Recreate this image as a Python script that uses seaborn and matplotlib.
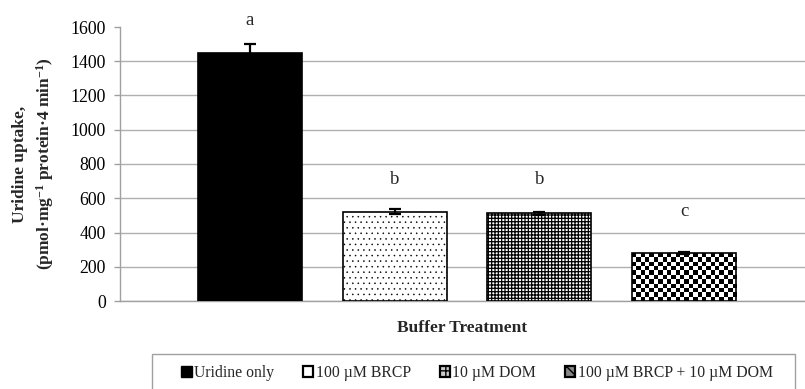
import numpy as np
import pandas as pd
import matplotlib
matplotlib.use("Agg")
import matplotlib.pyplot as plt
from matplotlib.patches import Patch, Rectangle
import seaborn as sns

# ---- data ----
treatments = ["Uridine only", "100 \u00b5M BRCP", "10 \u00b5M DOM", "100 \u00b5M BRCP + 10 \u00b5M DOM"]
uptake = [1450, 522, 512, 280]
errors = [48, 14, 10, 5]
letters = ["a", "b", "b", "c"]
letter_y = [1640, 710, 710, 520]
y_ticks = [0, 200, 400, 600, 800, 1000, 1200, 1400, 1600]

sns.set_theme(style="white")
plt.rcParams["font.family"] = ["Liberation Serif", "DejaVu Serif"]
plt.rcParams["mathtext.fontset"] = "custom"
plt.rcParams["mathtext.rm"] = "Liberation Serif:bold"
plt.rcParams["mathtext.default"] = "rm"
plt.rcParams["hatch.linewidth"] = 1.0

df = pd.DataFrame({"treatment": treatments, "uptake": uptake})

fig = plt.figure(figsize=(8.05, 3.89), dpi=100)
ax = fig.add_axes([120 / 805, 1 - 301 / 389, (805 - 120) / 805, (301 - 27) / 389])

sns.barplot(data=df, x="treatment", y="uptake", order=treatments, color="black",
            width=0.72, errorbar=None, ax=ax, zorder=3)

patches = ax.patches
styles = [
    dict(face="black", hatch=None, hlw=1.0),
    dict(face="white", hatch="...", hlw=0.35),
    dict(face="white", hatch="+++++", hlw=0.9),
    dict(face="none", hatch=None, hlw=1.0),
]
for p, st in zip(patches, styles):
    p.set_facecolor(st["face"])
    p.set_edgecolor("black")
    p.set_linewidth(1.2)
    if st["hatch"]:
        p.set_hatch(st["hatch"])
        if hasattr(p, "set_hatch_linewidth"):
            p.set_hatch_linewidth(st["hlw"])

ax.set_xlim(-0.898, 3.836)
ax.set_ylim(0, 1600)
fig.canvas.draw()

# checkerboard fill for last bar, clipped to the bar drawn by seaborn
p4 = patches[3]
x0, w, y0, h = p4.get_x(), p4.get_width(), p4.get_y(), p4.get_height()
(px0, py0), (px1, py1) = ax.transData.transform([(x0, y0), (x0 + w, y0 + h)])
cell = 4.4
nx = max(1, int(round(abs(px1 - px0) / cell)))
ny = max(1, int(round(abs(py1 - py0) / cell)))
ii, jj = np.indices((ny, nx))
board = ((ii + jj) % 2).astype(float)
im = ax.imshow(board, cmap="gray", extent=[x0, x0 + w, y0, y0 + h], aspect="auto",
               interpolation="nearest", zorder=2.9, vmin=0, vmax=1)
im.set_clip_path(p4)

ax.set_xlim(-0.898, 3.836)
ax.set_ylim(0, 1600)

# error bars
centers = [p.get_x() + p.get_width() / 2 for p in patches]
ax.errorbar(centers, uptake, yerr=errors, fmt="none", ecolor="black",
            elinewidth=1.6, capsize=4.5, capthick=1.6, zorder=4)

# significance letters
for cx, lt, ly in zip(centers, letters, letter_y):
    ax.text(cx, ly, lt, ha="center", va="center", fontsize=13.5, clip_on=False)

# axes styling
ax.set_yticks(y_ticks)
ax.set_yticklabels([str(v) for v in y_ticks], fontsize=12.8)
ax.set_xticks([])
ax.set_xlabel("")
ax.set_ylabel("")
ax.yaxis.grid(True, color="#b0b0b0", linewidth=1.0, zorder=0)
ax.set_axisbelow(True)
gls = ax.get_ygridlines()
gls[-1].set_visible(False)
for s in ["top", "right"]:
    ax.spines[s].set_visible(False)
ax.spines["left"].set_color("#a0a0a0")
ax.spines["bottom"].set_color("#a0a0a0")
ax.spines["left"].set_linewidth(1.0)
ax.spines["bottom"].set_linewidth(1.0)
ax.tick_params(axis="y", which="both", left=True, length=4, width=1.0,
               color="#a0a0a0", pad=6, labelcolor="black")

# axis titles
fig.text(34 / 805, 1 - 164 / 389,
         "Uridine uptake,\n(pmol\u00b7mg$^{-1}$ protein\u00b74 min$^{-1}$)",
         rotation=90, ha="center", va="center", fontsize=12.5, fontweight="bold",
         linespacing=1.35)
fig.text(462 / 805, 1 - 328 / 389, "Buffer Treatment", ha="center", va="center",
         fontsize=12.5, fontweight="bold")

# legend frame
fig.patches.append(Rectangle((152 / 805, -0.05), (795 - 152) / 805, 1 - 354 / 389 + 0.05,
                             transform=fig.transFigure, facecolor="white",
                             edgecolor="#a0a0a0", linewidth=1.0, zorder=0))

# legend
handles = [
    Patch(facecolor="black", edgecolor="black", linewidth=1.0),
    Patch(facecolor="white", edgecolor="black", linewidth=1.6),
    Patch(facecolor="#cccccc", edgecolor="black", linewidth=1.6, hatch="++"),
    Patch(facecolor="#888888", edgecolor="black", linewidth=1.6, hatch="xx"),
]
leg = fig.legend(handles, treatments, loc="center", ncol=4,
                 bbox_to_anchor=(477 / 805, 1 - 373 / 389), frameon=False,
                 fontsize=11.3, handlelength=0.65, handleheight=0.65,
                 handletextpad=0.15, columnspacing=1.85, borderpad=0.0,
                 borderaxespad=0)

fig.savefig("out.png", dpi=100)
